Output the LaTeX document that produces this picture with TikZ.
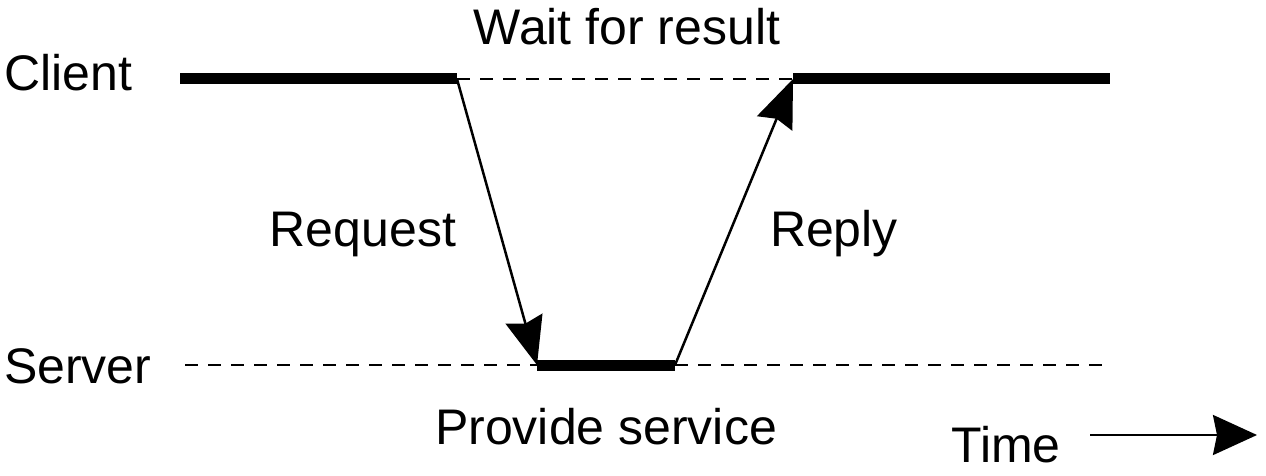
\documentclass[tikz,border=0pt]{standalone}
\usepackage{fontspec}
\setmainfont{Liberation Sans}
\usetikzlibrary{arrows.meta}
\begin{document}
\begin{tikzpicture}[x=1pt,y=-1pt,
  lbl/.style={inner sep=0pt,font=\fontsize{50}{60}\selectfont},
  busy/.style={line width=11pt},
  idle/.style={line width=2.6pt,dash pattern=on 13pt off 10pt},
  msg/.style={line width=2.5pt,-{Stealth[length=48pt,width=38pt,inset=5pt]}},
  timearrow/.style={line width=2.5pt,-{Stealth[length=44pt,width=40pt,inset=4pt]}}]
\useasboundingbox (0,0) rectangle (1266,476);
% coordinates
\coordinate (c0) at (180,79);
\coordinate (c1) at (457,79);
\coordinate (c2) at (793,79);
\coordinate (c3) at (1110,79);
\coordinate (s0) at (185,365);
\coordinate (s1) at (537,365);
\coordinate (s2) at (675,365);
\coordinate (s3) at (1105,365);
\coordinate (t0) at (1090,435);
\coordinate (t1) at (1257,435);
% labels
\node[lbl,anchor=base west] (client) at (4,91) {Client};
\node[lbl,anchor=base west] (server) at (4,383) {Server};
\node[lbl,anchor=base] (wait) at (627,45) {Wait for result};
\node[lbl,anchor=base] (request) at (363,246) {Request};
\node[lbl,anchor=base] (reply) at (834,246) {Reply};
\node[lbl,anchor=base] (provide) at (606,444) {Provide service};
\node[lbl,anchor=base] (time) at (1006,462) {Time};
% lanes
\draw[busy] (c0) -- (c1);
\draw[idle] (c1) -- (c2);
\draw[busy] (c2) -- (c3);
\draw[idle] (s0) -- (s1);
\draw[busy] (s1) -- (s2);
\draw[idle] (s2) -- (s3);
% messages
\draw[msg] (c1) -- (s1);
\draw[msg] (s2) -- (c2);
\draw[timearrow] (t0) -- (t1);
\end{tikzpicture}
\end{document}
